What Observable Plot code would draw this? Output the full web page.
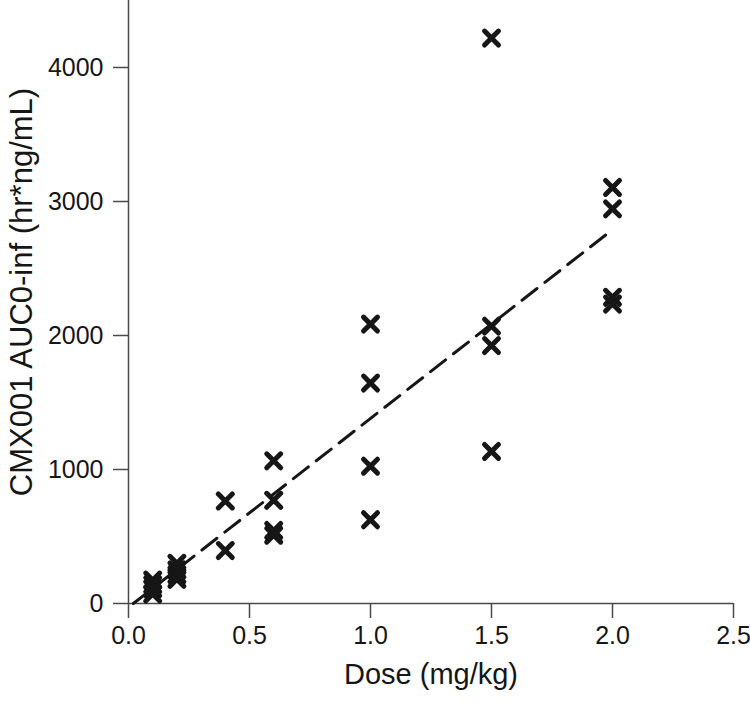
<!DOCTYPE html>
<html>
<head>
<meta charset="utf-8">
<script src="https://cdn.jsdelivr.net/npm/d3@7"></script>
<script src="https://cdn.jsdelivr.net/npm/@observablehq/plot@0.6"></script>
<style>
  html, body { margin: 0; padding: 0; background: #fff; }
  #chart svg { display: block; overflow: visible; font-family: "Liberation Sans", Arial, sans-serif; }
</style>
</head>
<body>
<div id="chart"></div>
<script>
// Observed data: dose (mg/kg) and CMX001 AUC0-inf (hr*ng/mL)
const doses = [0.1, 0.1, 0.1, 0.1,
               0.2, 0.2, 0.2, 0.2,
               0.4, 0.4,
               0.6, 0.6, 0.6, 0.6,
               1.0, 1.0, 1.0, 1.0,
               1.5, 1.5, 1.5, 1.5,
               2.0, 2.0, 2.0, 2.0];
const auc = [175, 140, 110, 70,
             300, 250, 215, 180,
             765, 395,
             1065, 770, 545, 510,
             2085, 1645, 1025, 625,
             4220, 2070, 1925, 1135,
             3105, 2945, 2285, 2235];

// Fitted regression line endpoints
const fitDose = [0.02, 2.0];
const fitAuc = [0, 2790];

const xTicks = [0, 0.5, 1.0, 1.5, 2.0, 2.5];
const yTicks = [0, 1000, 2000, 3000, 4000];
const xLabel = "Dose (mg/kg)";
const yLabel = "CMX001 AUC0-inf (hr*ng/mL)";

const points = doses.map((d, i) => ({dose: d, auc: auc[i]}));
const fit = fitDose.map((d, i) => ({dose: d, auc: fitAuc[i]}));

const axisColor = "#4a4a4a";
const ink = "#161616";

const chart = Plot.plot({
  width: 750,
  height: 703,
  marginLeft: 128,
  marginRight: 17,
  marginTop: 0,
  marginBottom: 100,
  style: {fontFamily: "'Liberation Sans', Arial, sans-serif", color: ink, background: "#fff", overflow: "visible"},
  x: {domain: [0, 2.5]},
  y: {domain: [0, 4500]},
  marks: [
    Plot.axisX({ticks: xTicks, tickFormat: d3.format(".1f"), tickSize: 15, tickPadding: 8,
      fontSize: 25, stroke: axisColor, strokeWidth: 1.5, label: null, fill: ink}),
    Plot.axisY({ticks: yTicks, tickFormat: d => String(d), tickSize: 15, tickPadding: 10,
      fontSize: 25, stroke: axisColor, strokeWidth: 1.5, label: null, fill: ink}),
    Plot.ruleY([0], {stroke: axisColor, strokeWidth: 1.5}),
    Plot.ruleX([0], {stroke: axisColor, strokeWidth: 1.5}),
    Plot.line(fit, {x: "dose", y: "auc", stroke: ink, strokeWidth: 3,
      strokeDasharray: "19,10"}),
    Plot.dot(points, {x: "dose", y: "auc", symbol: "times", r: 6.4,
      stroke: ink, strokeWidth: 5, strokeLinecap: "round"}),
    Plot.text([xLabel], {frameAnchor: "bottom", dy: 80, fontSize: 29, fill: ink}),
    Plot.text([yLabel], {frameAnchor: "left", dx: -106, dy: -10, rotate: -90, textAnchor: "middle",
      fontSize: 31, fill: ink})
  ]
});
document.getElementById("chart").appendChild(chart);
</script>
</body>
</html>
